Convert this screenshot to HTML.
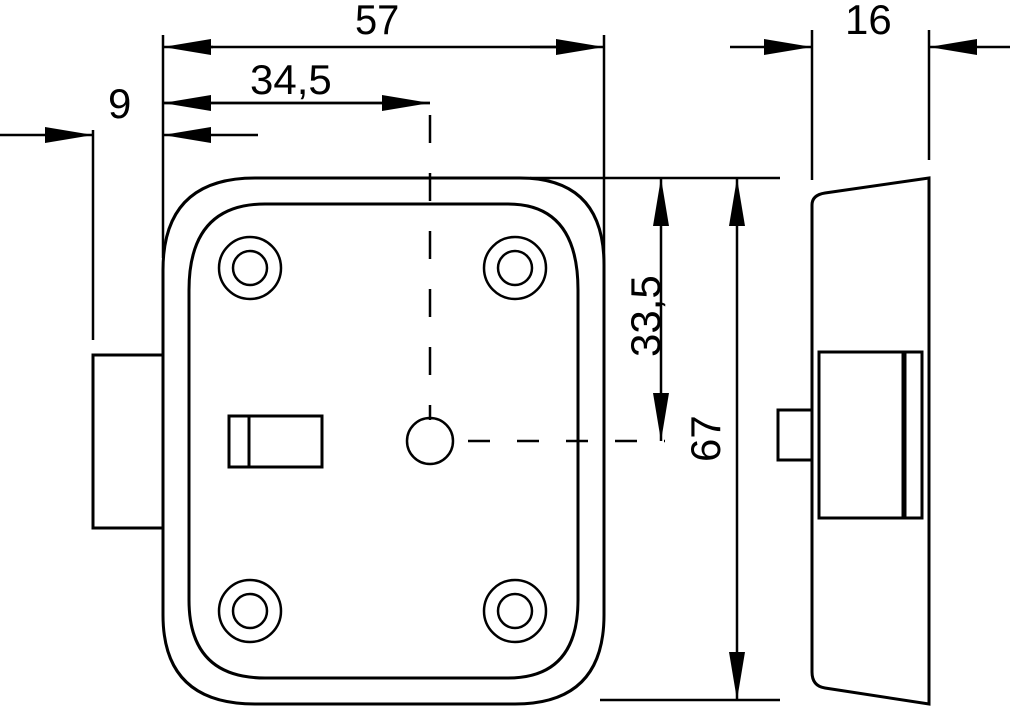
<!DOCTYPE html>
<html><head><meta charset="utf-8"><style>
html,body{margin:0;padding:0;background:#fff;}
svg{display:block;}
text{font-family:"Liberation Sans",sans-serif;font-size:42px;fill:#000;}
</style></head><body>
<svg width="1024" height="707" viewBox="0 0 1024 707" xmlns="http://www.w3.org/2000/svg">
<defs>
<marker id="a" viewBox="0 0 48 16" refX="48" refY="8" markerWidth="48" markerHeight="16" markerUnits="userSpaceOnUse" orient="auto"><path d="M0,0 L48,8 L0,16 Z" fill="#000"/></marker>
</defs>
<g stroke="#000" stroke-width="3" fill="none">
<!-- plate -->
<path d="M163,270 Q163,178 255,178 L520,178 Q604,178 604,265 L604,615 Q604,704 515,704 L255,704 Q163,704 163,615 Z"/>
<path d="M189,290 Q189,204 265,204 L508,204 Q578,204 578,290 L578,600 Q578,678 508,678 L265,678 Q189,678 189,600 Z"/>
<circle cx="250" cy="268" r="31" stroke-width="2.5"/><circle cx="250" cy="268" r="17" stroke-width="2.5"/>
<circle cx="515" cy="268" r="31" stroke-width="2.5"/><circle cx="515" cy="268" r="17" stroke-width="2.5"/>
<circle cx="250" cy="611" r="31" stroke-width="2.5"/><circle cx="250" cy="611" r="17" stroke-width="2.5"/>
<circle cx="515" cy="611" r="31" stroke-width="2.5"/><circle cx="515" cy="611" r="17" stroke-width="2.5"/>
<circle cx="430" cy="441" r="23" stroke-width="2.5"/>
<rect x="229" y="416" width="93" height="51"/><line x1="249" y1="416" x2="249" y2="467"/>
<!-- bolt left -->
<path d="M163,355 L93,355 L93,528 L163,528"/>
<!-- side view -->
<path d="M929,178 L929,704 L825,688 Q812,686 812,672 L812,205 Q812,195 825,193 Z"/>
<rect x="819" y="352" width="103" height="166"/><line x1="904" y1="352" x2="904" y2="518" stroke-width="5"/>
<path d="M812,410 L778,410 L778,460 L812,460"/>
<!-- dims -->
<g stroke-width="2.5">
<line x1="163" y1="35" x2="163" y2="258"/>
<line x1="604" y1="35" x2="604" y2="265"/>
<line x1="187" y1="47" x2="580" y2="47"/>
<line x1="163" y1="47" x2="213" y2="47" marker-end="url(#a)" transform="rotate(180 188 47)"/>
<line x1="530" y1="47" x2="604" y2="47" marker-end="url(#a)"/>
<line x1="163" y1="103" x2="430" y2="103" marker-end="url(#a)"/>
<line x1="430" y1="103" x2="211" y2="103" transform="translate(0,0)"/>
<line x1="0" y1="135" x2="93" y2="135" marker-end="url(#a)"/>
<line x1="258" y1="135" x2="163" y2="135" marker-end="url(#a)"/>
<line x1="93" y1="130" x2="93" y2="340"/>
<line x1="430" y1="103" x2="430" y2="420" stroke-dasharray="28,30" stroke-dashoffset="-12"/>
<line x1="468" y1="441" x2="665" y2="441" stroke-dasharray="22,27"/>
<line x1="530" y1="178" x2="780" y2="178"/>
<line x1="600" y1="700" x2="780" y2="700"/>
<line x1="661" y1="300" x2="661" y2="178" marker-end="url(#a)"/>
<line x1="661" y1="300" x2="661" y2="441" marker-end="url(#a)"/>
<line x1="737" y1="440" x2="737" y2="178" marker-end="url(#a)"/>
<line x1="737" y1="440" x2="737" y2="700" marker-end="url(#a)"/>
<line x1="812" y1="30" x2="812" y2="180"/>
<line x1="929" y1="30" x2="929" y2="160"/>
<line x1="730" y1="47" x2="812" y2="47" marker-end="url(#a)"/>
<line x1="1010" y1="47" x2="929" y2="47" marker-end="url(#a)"/>
</g>
</g>
<line x1="163" y1="103" x2="211" y2="103" stroke="#000" stroke-width="2.5" marker-end="url(#a)" transform="rotate(180 187 103)"/>
<text x="355" y="34" transform="scale(0.95,1)" transform-origin="355 34">57</text>
<text x="250" y="94">34,5</text>
<text x="108" y="118">9</text>
<text x="845" y="34">16</text>
<text x="0" y="0" transform="translate(660,357) rotate(-90)">33,5</text>
<text x="0" y="0" transform="translate(720,462) rotate(-90)">67</text>
</svg>
</body></html>
